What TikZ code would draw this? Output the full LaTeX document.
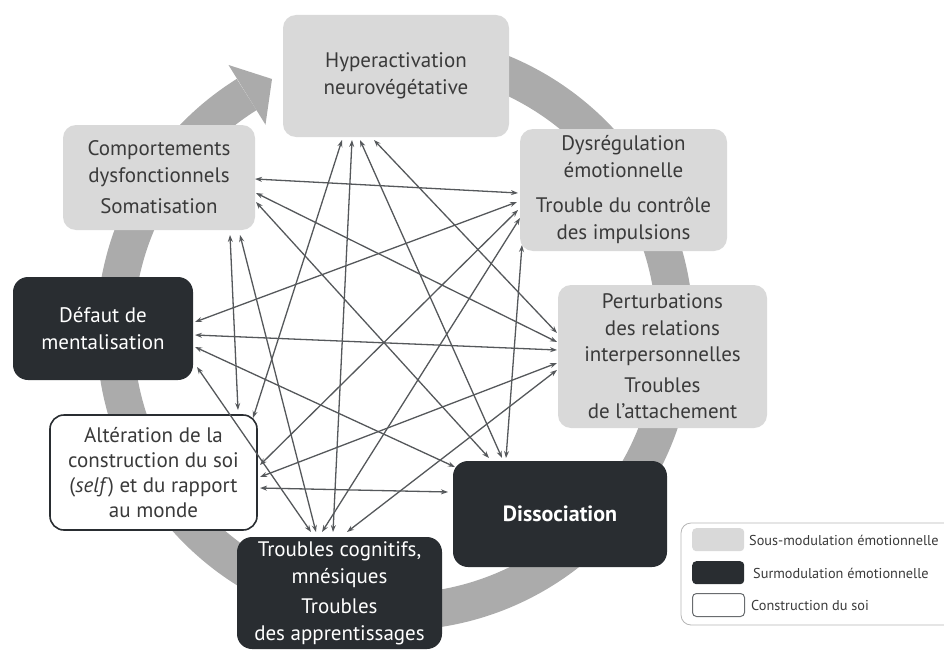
\documentclass[tikz,border=0pt]{standalone}
\usepackage{fontspec}
\setmainfont{PT Sans}
\usetikzlibrary{arrows.meta,calc}
\definecolor{lightfill}{HTML}{D9D9D9}
\definecolor{darkfill}{HTML}{292D31}
\definecolor{ringgray}{HTML}{ABABAB}
\definecolor{textgray}{HTML}{3A3A3A}
\definecolor{linkgray}{HTML}{55585B}
\begin{document}
\begin{tikzpicture}[x=1pt,y=-1pt,
  boxtext/.style={align=center,inner sep=0pt,font=\fontsize{21}{27}\selectfont},
  lightbox/.style={boxtext,fill=lightfill,rounded corners=13pt,text=textgray},
  darkbox/.style={boxtext,fill=darkfill,rounded corners=15pt,text=white},
  whitebox/.style={boxtext,draw=darkfill,line width=1.6pt,fill=white,rounded corners=14pt,text=textgray},
  link/.style={draw=linkgray,line width=1.3pt,{Stealth[length=7pt,width=5pt]}-{Stealth[length=7pt,width=5pt]}},
  legbox/.style={minimum width=52pt,minimum height=23pt,inner sep=0pt,rounded corners=4pt},
  legtext/.style={anchor=west,inner sep=0pt,text=textgray,font=\fontsize{14.3}{17}\selectfont}
]
\useasboundingbox (0,0) rectangle (944,650);
% ring
\draw[ringgray,line width=37pt] (395,52) arc[start angle=-90,end angle=238,radius=280];
\fill[ringgray] (228.5,65) -- (272,79) -- (265.5,124.7) -- cycle;
% boxes
\node[lightbox,minimum width=226pt,minimum height=122pt] (H) at (396,76) {Hyperactivation\\neurovégétative};
\node[lightbox,minimum width=192pt,minimum height=105pt] (C) at (159,177.5) {Comportements\\dysfonctionnels\\[4pt]Somatisation};
\node[lightbox,minimum width=207pt,minimum height=122pt] (D) at (623.5,190) {Dysrégulation\\émotionnelle\\[8pt]Trouble du contrôle\\des impulsions};
\node[lightbox,minimum width=209pt,minimum height=143pt,font=\fontsize{21}{26.5}\selectfont] (P) at (662.5,356.5) {Perturbations\\des relations\\interpersonnelles\\[4pt]Troubles\\de l’attachement};
\node[darkbox,minimum width=214pt,minimum height=106pt,font=\fontsize{22}{27}\selectfont\bfseries] (Dis) at (560,514) {Dissociation};
\node[darkbox,minimum width=205pt,minimum height=112pt] (T) at (339.5,593) {Troubles cognitifs,\\mnésiques\\[3pt]Troubles\\des apprentissages};
\node[whitebox,minimum width=207pt,minimum height=115pt,font=\fontsize{21}{25}\selectfont] (A) at (153.5,472.5) {Altération de la\\construction du soi\\(\textit{self}) et du rapport\\au monde};
\node[darkbox,minimum width=180pt,minimum height=103pt] (M) at (103,328.5) {Défaut de\\mentalisation};
% links
\draw[link] ($(C)+(96,1.5)$) -- ($(D)+(-105.5,3)$);
\draw[link] ($(C)+(97,15.5)$) -- ($(P)+(-105.5,-14.5)$);
\draw[link] ($(C)+(97,24.5)$) -- ($(Dis)+(-71,-56)$);
\draw[link] ($(C)+(71,57.5)$) -- ($(A)+(84.5,-62.5)$);
\draw[link] ($(C)+(81,57.5)$) -- ($(T)+(-23.5,-61)$);
\draw[link] ($(H)+(-54,64)$) -- ($(A)+(99.5,-54.5)$);
\draw[link] ($(H)+(-44,64)$) -- ($(T)+(-6.5,-61)$);
\draw[link] ($(H)+(-36,64)$) -- ($(Dis)+(-58,-56)$);
\draw[link] ($(H)+(-22,64)$) -- ($(P)+(-105.5,-23.5)$);
\draw[link] ($(M)+(92,-6.5)$) -- ($(D)+(-106.5,12)$);
\draw[link] ($(M)+(92,6.5)$) -- ($(P)+(-105.5,-6.5)$);
\draw[link] ($(M)+(92,18.5)$) -- ($(Dis)+(-105,-47)$);
\draw[link] ($(M)+(94,38.5)$) -- ($(T)+(-28.5,-61)$);
\draw[link] ($(D)+(-101.5,55)$) -- ($(Dis)+(-54,-56)$);
\draw[link] ($(D)+(-105.5,20)$) -- ($(A)+(106.5,-7.5)$);
\draw[link] ($(D)+(-103.5,28)$) -- ($(T)+(-17.5,-61)$);
\draw[link] ($(P)+(-105.5,6.5)$) -- ($(A)+(106.5,4.5)$);
\draw[link] ($(P)+(-105.5,13.5)$) -- ($(T)+(7.5,-61)$);
\draw[link] ($(A)+(106.5,15.5)$) -- ($(Dis)+(-112,-22)$);
% legend
\draw[lightfill!60!gray,line width=0.8pt,rounded corners=10pt] (681,523) rectangle (960,625);
\node[legbox,fill=lightfill,anchor=north west] (L1) at (692,528) {};
\node[legbox,fill=darkfill,anchor=north west] (L2) at (692,561) {};
\node[legbox,fill=white,draw=darkfill!70,line width=1pt,anchor=north west] (L3) at (692,593) {};
\node[legtext] (T1) at (749,540) {Sous-modulation émotionnelle};
\node[legtext] (T2) at (753,573) {Surmodulation émotionnelle};
\node[legtext] (T3) at (751,605) {Construction du soi};
\end{tikzpicture}
\end{document}
